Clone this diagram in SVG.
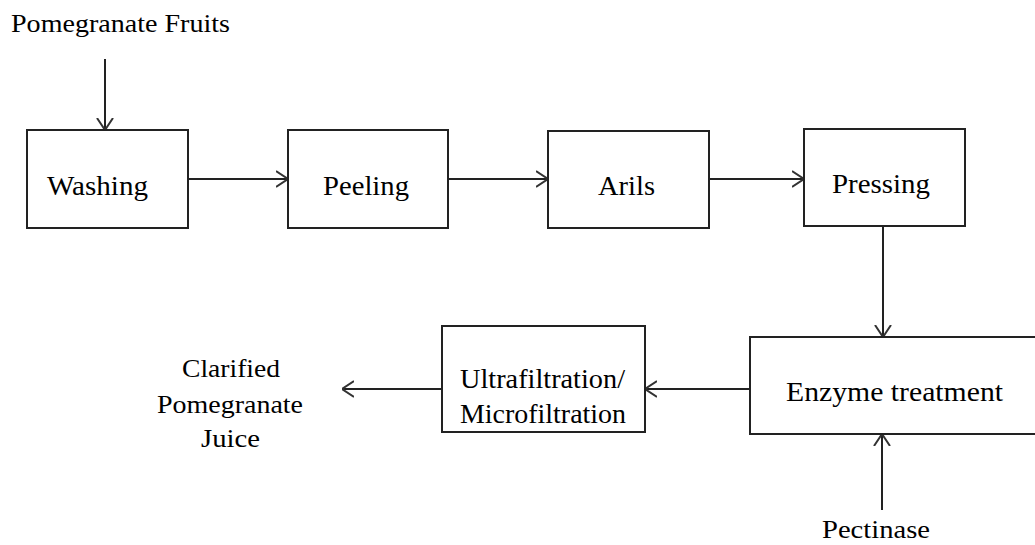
<svg xmlns="http://www.w3.org/2000/svg" width="1035" height="545" viewBox="0 0 1035 545">
<style>
.box{fill:#fff;stroke:#222;stroke-width:2}
.lbl{font-family:"Liberation Serif","Times New Roman",serif;font-size:28px;fill:#000}
.out{font-family:"Liberation Serif","Times New Roman",serif;font-size:26px;fill:#000}
.con{fill:none;stroke:#222;stroke-width:2;marker-end:url(#arr)}
</style>
<defs>
<marker id="arr" viewBox="0 0 12 18" refX="12" refY="9" markerWidth="12" markerHeight="18" orient="auto" markerUnits="userSpaceOnUse">
<path d="M0,1 L12,9 L0,17" fill="none" stroke="#333" stroke-width="2"/>
</marker>
</defs>
<rect width="1035" height="545" fill="#fff"/>
<g id="connectors">
<line class="con" x1="105" y1="59" x2="105" y2="130"/>
<line class="con" x1="188" y1="179" x2="288" y2="179"/>
<line class="con" x1="448" y1="179" x2="548" y2="179"/>
<line class="con" x1="709" y1="179" x2="804" y2="179"/>
<line class="con" x1="883" y1="226" x2="883" y2="337"/>
<line class="con" x1="750" y1="389" x2="645" y2="389"/>
<line class="con" x1="442" y1="389" x2="342" y2="389"/>
<line class="con" x1="882" y1="510" x2="882" y2="434"/>
</g>
<g id="n-fruits"><text class="out" x="11" y="32" textLength="219" lengthAdjust="spacingAndGlyphs">Pomegranate Fruits</text></g>
<g id="n-washing"><rect class="box" x="27" y="130" width="161" height="98"/><text class="lbl" x="47" y="195" textLength="101" lengthAdjust="spacingAndGlyphs">Washing</text></g>
<g id="n-peeling"><rect class="box" x="288" y="130" width="160" height="98"/><text class="lbl" x="323" y="195" textLength="86" lengthAdjust="spacingAndGlyphs">Peeling</text></g>
<g id="n-arils"><rect class="box" x="548" y="131" width="161" height="97"/><text class="lbl" x="598" y="195" textLength="57" lengthAdjust="spacingAndGlyphs">Arils</text></g>
<g id="n-pressing"><rect class="box" x="804" y="129" width="161" height="97"/><text class="lbl" x="832" y="193" textLength="98" lengthAdjust="spacingAndGlyphs">Pressing</text></g>
<g id="n-enzyme"><rect class="box" x="750" y="337" width="300" height="97"/><text class="lbl" x="786" y="401" textLength="217" lengthAdjust="spacingAndGlyphs">Enzyme treatment</text></g>
<g id="n-filtration"><rect class="box" x="442" y="326" width="203" height="106"/><text class="lbl" x="460" y="388" textLength="165" lengthAdjust="spacingAndGlyphs">Ultrafiltration/</text><text class="lbl" x="460" y="423" textLength="166" lengthAdjust="spacingAndGlyphs">Microfiltration</text></g>
<g id="n-juice"><text class="out" x="182" y="377" textLength="98" lengthAdjust="spacingAndGlyphs">Clarified</text><text class="out" x="157" y="413" textLength="146" lengthAdjust="spacingAndGlyphs">Pomegranate</text><text class="out" x="201" y="447" textLength="59" lengthAdjust="spacingAndGlyphs">Juice</text></g>
<g id="n-pectinase"><text class="out" x="822" y="538" textLength="108" lengthAdjust="spacingAndGlyphs">Pectinase</text></g>
</svg>
